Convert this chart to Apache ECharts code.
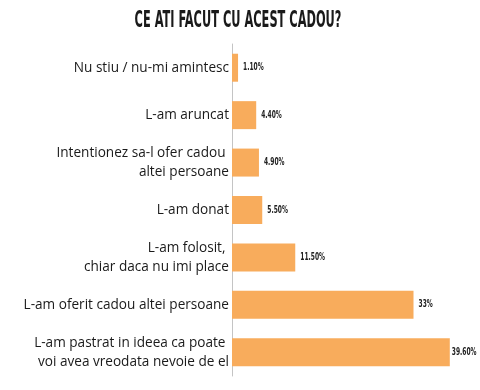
<!DOCTYPE html>
<html><head><meta charset="utf-8">
<script src="https://cdn.jsdelivr.net/npm/echarts@6/dist/echarts.min.js"></script>
<style>html,body{margin:0;padding:0;background:#fff}#c{width:480px;height:390px}</style>
</head><body><div id="c"></div>
<script>
var categories = [
  "Nu stiu / nu-mi amintesc",
  "L-am aruncat",
  "Intentionez sa-l ofer cadou \naltei persoane",
  "L-am donat",
  "L-am folosit, \nchiar daca nu imi place",
  "L-am oferit cadou altei persoane",
  "L-am pastrat in ideea ca poate \nvoi avea vreodata nevoie de el"
];
var values = [1.1, 4.4, 4.9, 5.5, 11.5, 33, 39.6];
var valueLabels = ["1.10%", "4.40%", "4.90%", "5.50%", "11.50%", "33%", "39.60%"];
var titleText = "CE ATI FACUT CU ACEST CADOU?";

var chart = echarts.init(document.getElementById('c'));
chart.setOption({
  animation: false,
  graphic: [{
    type: 'text', x: 238, y: 21, scaleX: 0.55, originX: 0,
    style: {
      text: titleText, align: 'center', verticalAlign: 'middle',
      font: 'bold 23px "DejaVu Sans Condensed"', fill: '#1a1a1a'
    }
  }],
  grid: {left: 232, top: 44, width: 220, height: 332, containLabel: false},
  xAxis: {type: 'value', min: 0, max: 40, show: false},
  yAxis: {
    type: 'category', data: categories, inverse: true,
    axisLine: {show: true, lineStyle: {color: '#c4c4c4', width: 1}},
    axisTick: {show: false},
    axisLabel: {margin: 3, fontFamily: 'Open Sans', fontSize: 13.6, color: '#1a1a1a', lineHeight: 19, align: 'right'}
  },
  series: [{
    type: 'bar', data: values, barCategoryGap: '41%',
    itemStyle: {color: '#F8AC5C'}
  }, {
    type: 'custom',
    data: values.map(function (v, i) { return [v, i]; }),
    encode: {x: 0, y: 1},
    z: 5,
    renderItem: function (params, api) {
      var c = api.coord([api.value(0), api.value(1)]);
      var idx = params.dataIndex;
      var gap = idx === values.length - 1 ? 2 : 5;
      return {
        type: 'text', x: c[0] + gap, y: c[1], scaleX: 0.66,
        style: {
          text: valueLabels[idx], align: 'left', verticalAlign: 'middle',
          font: 'bold 10px "DejaVu Sans Condensed"', fill: '#222'
        }
      };
    }
  }]
});
</script></body></html>
